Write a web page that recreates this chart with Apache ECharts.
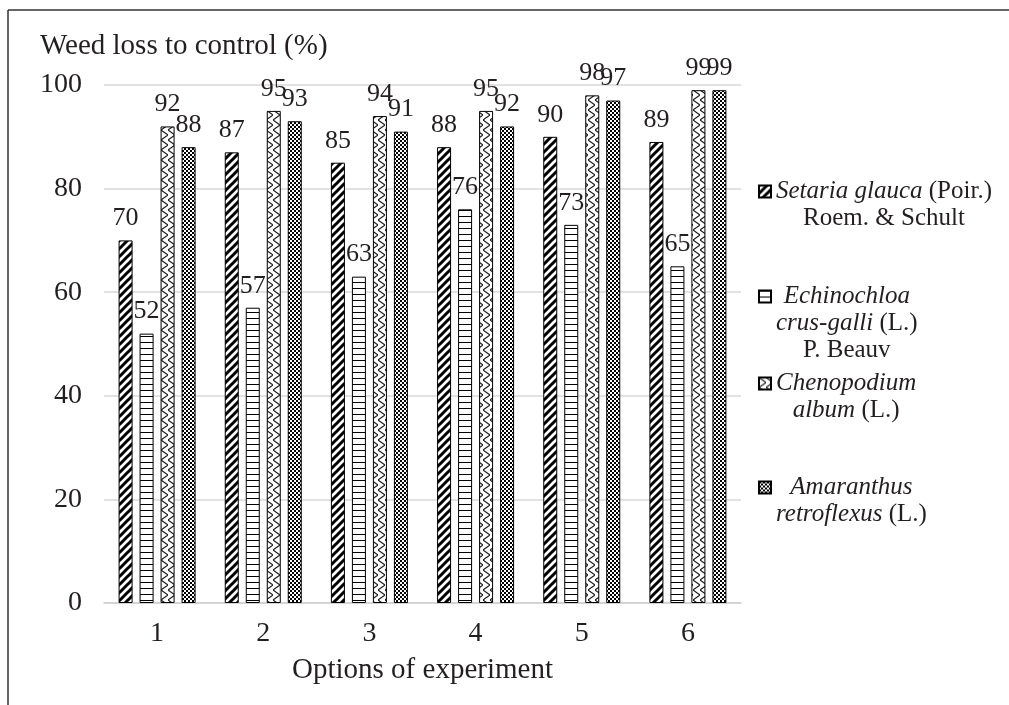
<!DOCTYPE html>
<html><head><meta charset="utf-8">
<script src="https://cdn.jsdelivr.net/npm/echarts@6/dist/echarts.min.js"></script>
<style>html,body{margin:0;padding:0;background:#fff}#c{width:1009px;height:705px}</style>
</head><body><div id="c"></div>
<script>
const categories = ['1','2','3','4','5','6'];
const seriesNames = [
  'Setaria glauca (Poir.) Roem. & Schult',
  'Echinochloa crus-galli (L.) P. Beauv',
  'Chenopodium album (L.)',
  'Amaranthus retroflexus (L.)'
];
const setaria = [70, 87, 85, 88, 90, 89];
const echinochloa = [52, 57, 63, 76, 73, 65];
const chenopodium = [92, 95, 94, 95, 98, 99];
const amaranthus = [88, 93, 91, 92, 97, 99];
const yTicks = {min: 0, max: 100, interval: 20};

const FONT = 'Liberation Serif';
const TXT = '#231f20';

function mk(w, h, draw) {
  const c = document.createElement('canvas');
  c.width = w; c.height = h;
  const g = c.getContext('2d');
  g.fillStyle = '#fff'; g.fillRect(0, 0, w, h);
  draw(g, w, h);
  return c;
}
const pDiag = mk(8, 8, g => {
  g.strokeStyle = '#000'; g.lineWidth = 3; g.beginPath();
  g.moveTo(-4, 12); g.lineTo(12, -4);
  g.moveTo(-8, 8); g.lineTo(8, -8);
  g.moveTo(0, 16); g.lineTo(16, 0);
  g.stroke();
});
const pHoriz = mk(4, 6, g => { g.fillStyle = '#000'; g.fillRect(0, 0, 4, 1); });
const pZig = mk(7, 10, g => {
  g.strokeStyle = '#222'; g.lineWidth = 1.2; g.beginPath();
  g.moveTo(0, 0); g.lineTo(7, 5); g.lineTo(0, 10); g.stroke();
});
const pCheck = mk(4, 4, g => {
  g.fillStyle = '#000'; g.fillRect(0, 0, 2, 2); g.fillRect(2, 2, 2, 2);
});
const patterns = [pDiag, pHoriz, pZig, pCheck];
const values = [setaria, echinochloa, chenopodium, amaranthus];

const legendTexts = {
  [seriesNames[0]]: '{n| }\n{i|Setaria glauca }{n|(Poir.)}\n{n|Roem. & Schult}',
  [seriesNames[1]]: '{n| }\n{n| }\n{i|Echinochloa}\n{i|crus-galli }{n|(L.)}\n{n|P. Beauv}',
  [seriesNames[2]]: '{n| }\n{i|Chenopodium}\n{i|album }{n|(L.)}',
  [seriesNames[3]]: '{n| }\n{i|Amaranthus}\n{i|retroflexus }{n|(L.)}'
};
const legendTops = [147, 225, 339, 443];
const rich = {
  i: {fontFamily: FONT, fontStyle: 'italic', fontSize: 25, color: TXT, lineHeight: 27, align: 'center'},
  n: {fontFamily: FONT, fontSize: 25, color: TXT, lineHeight: 27, align: 'center'}
};

const chart = echarts.init(document.getElementById('c'), null, {renderer: 'canvas'});
chart.setOption({
  animation: false,
  backgroundColor: '#fff',
  title: {
    text: 'Weed loss to control (%)', left: 35, top: 27,
    textStyle: {fontFamily: FONT, fontSize: 29, fontWeight: 'normal', color: TXT}
  },
  grid: {left: 104, right: 268, top: 85, bottom: 102},
  legend: seriesNames.map((n, k) => ({
    data: [n], orient: 'vertical', left: 753, top: legendTops[k],
    itemWidth: 12, itemHeight: 12, itemGap: 0, icon: 'rect',
    formatter: name => legendTexts[name],
    textStyle: {rich: rich, fontFamily: FONT, fontSize: 25, color: TXT}
  })),
  xAxis: {
    type: 'category', data: categories,
    name: 'Options of experiment', nameLocation: 'middle', nameGap: 53,
    nameTextStyle: {fontFamily: FONT, fontSize: 29, color: TXT},
    axisLine: {lineStyle: {color: '#d0d0d0', width: 1.5}},
    axisTick: {show: false},
    axisLabel: {fontFamily: FONT, fontSize: 28, color: TXT, margin: 17}
  },
  yAxis: {
    type: 'value', min: yTicks.min, max: yTicks.max, interval: yTicks.interval,
    axisLine: {show: false}, axisTick: {show: false},
    axisLabel: {fontFamily: FONT, fontSize: 28, color: TXT, margin: 22},
    splitLine: {lineStyle: {color: '#d9d9d9', width: 1.5}}
  },
  graphic: [
    {type: 'line', shape: {x1: 8, y1: 10, x2: 1009, y2: 10}, style: {stroke: '#333', lineWidth: 1.5}, silent: true},
    {type: 'line', shape: {x1: 8, y1: 10, x2: 8, y2: 705}, style: {stroke: '#333', lineWidth: 1.5}, silent: true}
  ],
  series: seriesNames.map((n, k) => ({
    name: n, type: 'bar', data: values[k],
    barWidth: 14, barGap: '50%',
    itemStyle: {color: {image: patterns[k], repeat: 'repeat'}, borderColor: '#000', borderWidth: 1},
    label: {show: true, position: 'top', distance: 9, fontFamily: FONT, fontSize: 26, color: TXT}
  }))
});
</script></body></html>
